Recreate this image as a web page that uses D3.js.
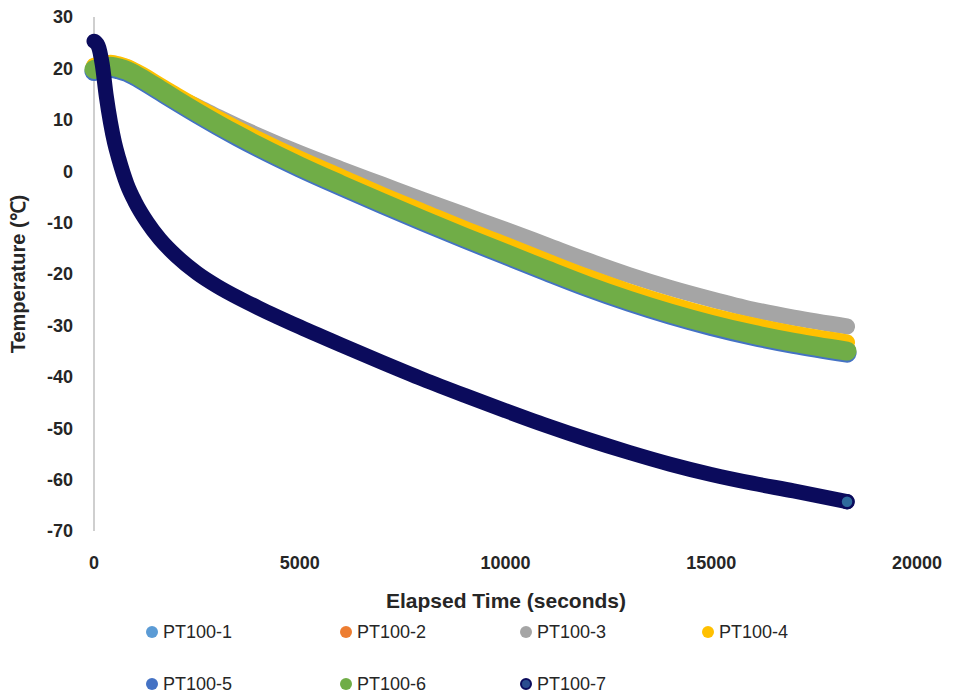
<!DOCTYPE html><html><head><meta charset="utf-8">
<script src="https://cdn.jsdelivr.net/npm/d3@7"></script>
<style>
  body { margin: 0; background: #fff; }
  text { font-family: "Liberation Sans", Arial, sans-serif; fill: #262626; }
</style>
</head>
<body><svg id="chart"></svg>
<script>

// elapsed time (s) shared by all probes
var times = [0, 100, 200, 300, 400, 500, 600, 800, 1000, 1300, 1600, 2000, 2500, 3000, 3500, 4000,
             5000, 6000, 7000, 8000, 9000, 10000, 11000, 12000, 13000, 14000, 15000, 16000, 17000, 18300];

var pt1 = [19.6, 19.8, 20.0, 20.1, 20.2, 20.1, 19.9, 19.4, 18.6, 17.2, 15.7, 13.7, 11.3, 9.0, 6.8, 4.7,
           0.8, -2.8, -6.3, -9.7, -13.0, -16.2, -19.4, -22.5, -25.3, -27.8, -30.0, -31.9, -33.5, -35.2];
var pt2 = [19.9, 20.1, 20.3, 20.4, 20.5, 20.4, 20.2, 19.7, 18.9, 17.5, 16.0, 14.0, 11.6, 9.3, 7.1, 5.0,
           1.1, -2.5, -6.0, -9.4, -12.7, -15.9, -19.1, -22.2, -25.0, -27.5, -29.7, -31.6, -33.2, -34.9];
var pt3 = [20.4, 20.6, 20.8, 20.9, 21.0, 20.9, 20.7, 20.2, 19.4, 18.0, 16.5, 14.5, 12.6, 10.6, 8.7, 6.9,
           3.5, 0.4, -2.6, -5.6, -8.5, -11.4, -14.4, -17.4, -20.2, -22.7, -24.9, -26.9, -28.5, -30.2];
var pt4 = [20.5, 20.7, 20.9, 21.0, 21.1, 21.0, 20.8, 20.3, 19.5, 18.2, 16.7, 14.8, 12.5, 10.3, 8.2, 6.2,
           2.4, -1.1, -4.6, -7.9, -11.2, -14.3, -17.5, -20.6, -23.4, -25.9, -28.1, -30.0, -31.6, -33.3];
var pt5 = [19.4, 19.6, 19.8, 19.9, 20.0, 19.9, 19.7, 19.2, 18.4, 17.0, 15.5, 13.5, 11.1, 8.8, 6.6, 4.5,
           0.6, -3.0, -6.5, -9.9, -13.2, -16.4, -19.6, -22.7, -25.5, -28.0, -30.2, -32.1, -33.7, -35.4];
var pt6 = [19.8, 20.0, 20.2, 20.3, 20.4, 20.3, 20.1, 19.6, 18.8, 17.4, 15.9, 13.9, 11.5, 9.2, 7.0, 4.9,
           1.0, -2.6, -6.1, -9.5, -12.8, -16.0, -19.2, -22.3, -25.1, -27.6, -29.8, -31.7, -33.3, -35.0];
var pt7 = [25.3, 24.4, 20.8, 14.5, 9.5, 5.5, 2.5, -2.5, -6.0, -10.0, -13.2, -16.5, -19.8, -22.4, -24.6, -26.6,
           -30.3, -33.8, -37.2, -40.5, -43.6, -46.6, -49.5, -52.2, -54.7, -57.0, -59.0, -60.7, -62.2, -64.3];

var names = ["PT100-1", "PT100-2", "PT100-3", "PT100-4", "PT100-5", "PT100-6", "PT100-7"];
var xTicks = [0, 5000, 10000, 15000, 20000];
var yTicks = [30, 20, 10, 0, -10, -20, -30, -40, -50, -60, -70];

var colors = ["#5b9bd5", "#ed7d31", "#a5a5a5", "#ffc000", "#4472c4", "#70ad47", "#0b0b5c"];
var widths = [18, 18, 16, 16, 19, 19, 15];
var allSeries = [pt1, pt2, pt3, pt4, pt5, pt6, pt7];

var width = 956, height = 696;

var svg = d3.select("#chart")
    .attr("width", width)
    .attr("height", height);

var x = d3.scaleLinear().domain([0, 20000]).range([94, 917]);
var y = d3.scaleLinear().domain([-70, 30]).range([531, 17]);

// vertical axis line
svg.append("line")
    .attr("x1", x(0)).attr("x2", x(0))
    .attr("y1", y(30)).attr("y2", y(-70))
    .attr("stroke", "#bfbfbf")
    .attr("stroke-width", 1.5);

svg.selectAll(".ylab")
    .data(yTicks)
    .enter().append("text")
      .attr("class", "ylab")
      .attr("x", 73)
      .attr("y", function(d) { return y(d); })
      .attr("dy", "0.35em")
      .style("text-anchor", "end")
      .style("font-size", "18px")
      .style("font-weight", "bold")
      .text(function(d) { return d; });

svg.selectAll(".xlab")
    .data(xTicks)
    .enter().append("text")
      .attr("class", "xlab")
      .attr("x", function(d) { return x(d); })
      .attr("y", 563)
      .attr("dy", "0.35em")
      .style("text-anchor", "middle")
      .style("font-size", "18px")
      .style("font-weight", "bold")
      .text(function(d) { return d; });

svg.append("text")
    .attr("x", 506).attr("y", 601)
    .attr("dy", "0.35em")
    .style("text-anchor", "middle")
    .style("font-size", "21px")
    .style("font-weight", "bold")
    .text("Elapsed Time (seconds)");

svg.append("text")
    .attr("transform", "translate(18,274) rotate(-90)")
    .attr("dy", "0.35em")
    .style("text-anchor", "middle")
    .style("font-size", "20px")
    .style("font-weight", "bold")
    .text("Temperature (℃)");

// each probe: dense markers merge into a thick band
var line = d3.line()
    .x(function(d) { return x(d[0]); })
    .y(function(d) { return y(d[1]); })
    .curve(d3.curveMonotoneX);

allSeries.forEach(function(vals, i) {
  var pts = times.map(function(t, j) { return [t, vals[j]]; });
  svg.append("path")
      .datum(pts)
      .attr("fill", "none")
      .attr("stroke", colors[i])
      .attr("stroke-width", widths[i])
      .attr("stroke-linecap", "round")
      .attr("stroke-linejoin", "round")
      .attr("d", line);
});

// last marker of PT100-7
svg.append("circle")
    .attr("cx", x(times[times.length - 1]))
    .attr("cy", y(pt7[pt7.length - 1]))
    .attr("r", 6.5)
    .attr("fill", "#2e6a9c")
    .attr("stroke", "#0b0b5c")
    .attr("stroke-width", 2.5);

// legend
var legX = [152, 346, 526, 708], legY = [632, 684];
var leg = svg.selectAll(".leg")
    .data(names)
    .enter().append("g")
      .attr("class", "leg")
      .attr("transform", function(d, i) { return "translate(" + legX[i % 4] + "," + legY[Math.floor(i / 4)] + ")"; });

leg.append("circle")
    .attr("r", function(d, i) { return i == 6 ? 5 : 6; })
    .attr("fill", function(d, i) { return i == 6 ? "#2a4d8f" : colors[i]; })
    .attr("stroke", function(d, i) { return i == 6 ? "#0b0b5c" : "none"; })
    .attr("stroke-width", 2);

leg.append("text")
    .attr("x", 11)
    .attr("dy", "0.35em")
    .style("font-size", "18px")
    .text(function(d) { return d; });

</script>
</body></html>
